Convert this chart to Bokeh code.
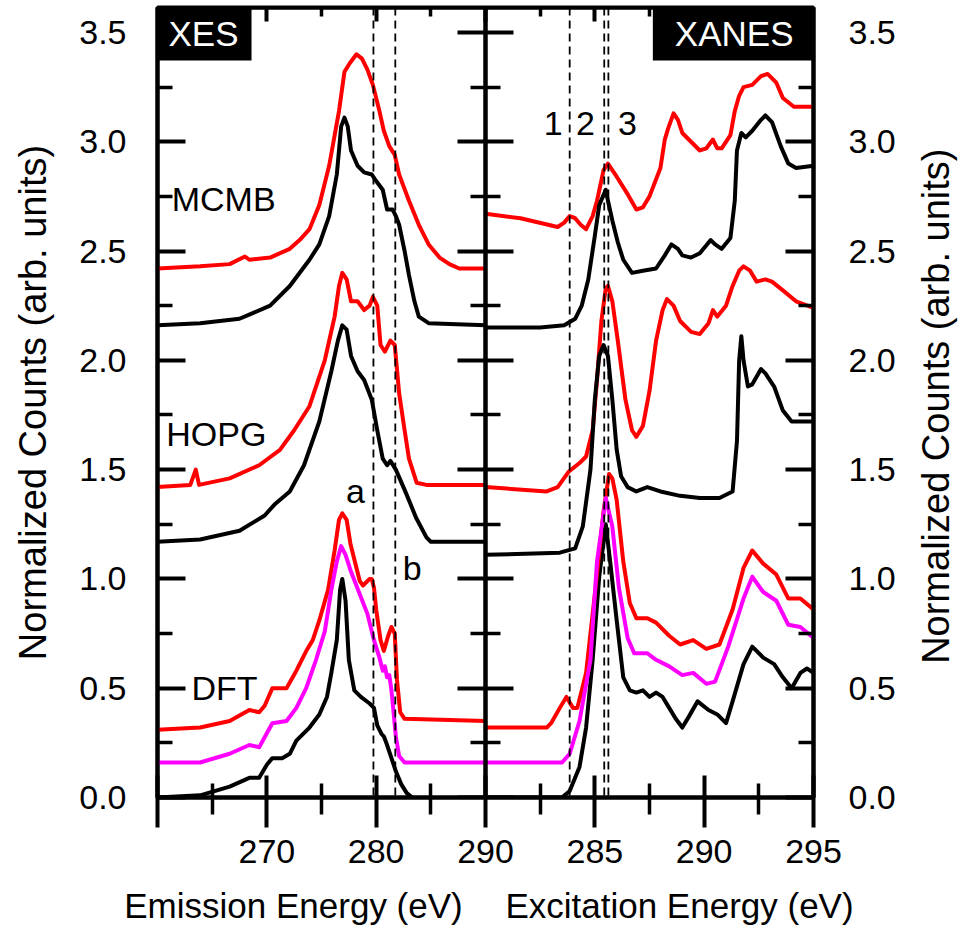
import math
from bokeh.plotting import figure
from bokeh.layouts import column, row
from bokeh.models import Range1d, LinearAxis, FixedTicker, NumeralTickFormatter, Span, Label
from bokeh.core.properties import value
from bokeh.embed import file_html
from bokeh.resources import INLINE

# ---------------- XES (emission energy, eV) ----------------
xes_mcmb_red_e = [260.0, 263.9, 266.6, 268.0, 268.4, 270.3, 272.1, 273.0, 273.9, 274.8, 275.7, 276.6, 277.1, 277.6, 278.2, 278.7, 279.2, 279.7, 280.3, 280.7, 281.2, 281.7, 282.1, 283.0, 283.9, 284.8, 285.8, 286.7, 287.6, 290.0]
xes_mcmb_red_v = [2.42, 2.43, 2.44, 2.475, 2.46, 2.47, 2.51, 2.55, 2.60, 2.71, 2.89, 3.14, 3.32, 3.36, 3.40, 3.38, 3.33, 3.26, 3.14, 3.05, 2.98, 2.94, 2.85, 2.73, 2.62, 2.53, 2.47, 2.44, 2.42, 2.42]

xes_mcmb_blk_e = [260.0, 263.9, 267.5, 270.3, 272.1, 273.9, 274.8, 275.7, 276.4, 276.8, 277.1, 277.4, 277.7, 278.3, 278.9, 279.6, 280.0, 280.6, 281.0, 281.5, 281.8, 282.1, 282.6, 283.0, 283.5, 283.9, 284.8, 290.0]
xes_mcmb_blk_v = [2.16, 2.17, 2.19, 2.25, 2.34, 2.46, 2.53, 2.66, 2.85, 3.07, 3.11, 3.07, 2.96, 2.89, 2.86, 2.85, 2.82, 2.78, 2.69, 2.69, 2.66, 2.62, 2.50, 2.39, 2.27, 2.20, 2.17, 2.16]

xes_hopg_red_e = [260.0, 263.0, 263.5, 263.8, 266.6, 269.3, 271.2, 272.5, 273.9, 275.3, 276.2, 276.6, 276.9, 277.3, 277.7, 278.3, 278.9, 279.4, 279.7, 280.1, 280.4, 280.8, 281.3, 281.7, 282.1, 282.6, 283.0, 283.7, 284.6, 290.0]
xes_hopg_red_v = [1.42, 1.43, 1.50, 1.43, 1.46, 1.52, 1.59, 1.68, 1.79, 2.00, 2.20, 2.34, 2.40, 2.37, 2.27, 2.27, 2.23, 2.25, 2.29, 2.25, 2.07, 2.04, 2.09, 2.07, 1.85, 1.68, 1.55, 1.44, 1.43, 1.43]

xes_hopg_blk_e = [260.0, 263.9, 267.5, 269.8, 270.7, 272.1, 273.4, 274.8, 275.9, 276.5, 276.9, 277.3, 277.7, 278.3, 278.9, 279.6, 280.1, 280.6, 281.0, 281.3, 281.8, 282.75, 283.65, 284.6, 285.0, 290.0]
xes_hopg_blk_v = [1.17, 1.18, 1.22, 1.29, 1.34, 1.40, 1.52, 1.72, 1.95, 2.09, 2.16, 2.14, 2.02, 1.95, 1.91, 1.82, 1.68, 1.55, 1.52, 1.54, 1.50, 1.39, 1.28, 1.19, 1.17, 1.17]

xes_dft_red_e = [260.0, 263.9, 266.6, 268.4, 269.3, 269.8, 270.5, 271.8, 272.7, 273.6, 274.2, 274.8, 275.6, 276.2, 276.6, 276.9, 277.3, 277.65, 278.5, 278.8, 279.4, 279.6, 279.8, 280.0, 280.4, 280.7, 281.1, 281.4, 281.7, 281.9, 282.2, 282.6, 290.0]
xes_dft_red_v = [0.31, 0.32, 0.35, 0.40, 0.39, 0.42, 0.50, 0.50, 0.58, 0.67, 0.72, 0.81, 0.95, 1.13, 1.27, 1.30, 1.27, 1.16, 0.99, 0.97, 1.00, 1.00, 0.96, 0.86, 0.72, 0.67, 0.74, 0.78, 0.75, 0.54, 0.39, 0.36, 0.35]

xes_dft_mag_e = [260.0, 263.9, 266.6, 268.4, 269.3, 270.5, 271.8, 272.7, 273.6, 274.5, 275.3, 275.9, 276.4, 276.8, 277.2, 277.65, 278.5, 279.2, 279.8, 280.3, 280.6, 280.8, 281.0, 281.2, 281.4, 281.8, 282.1, 282.6, 290.0]
xes_dft_mag_v = [0.16, 0.16, 0.20, 0.24, 0.23, 0.34, 0.35, 0.41, 0.50, 0.63, 0.76, 0.95, 1.08, 1.15, 1.11, 1.04, 0.93, 0.84, 0.72, 0.64, 0.58, 0.60, 0.55, 0.56, 0.49, 0.28, 0.19, 0.16, 0.16]

xes_dft_blk_e = [260.0, 263.9, 266.6, 268.4, 269.3, 270.0, 270.5, 271.4, 272.1, 272.7, 273.9, 274.8, 275.5, 275.9, 276.4, 276.7, 276.9, 277.2, 277.5, 278.0, 278.6, 279.4, 279.8, 280.1, 280.5, 280.7, 281.0, 281.4, 281.8, 282.3, 282.8, 283.3]
xes_dft_blk_v = [0.0, 0.01, 0.05, 0.09, 0.09, 0.15, 0.18, 0.18, 0.20, 0.26, 0.32, 0.38, 0.46, 0.57, 0.72, 0.95, 1.00, 0.90, 0.63, 0.49, 0.46, 0.43, 0.41, 0.33, 0.29, 0.28, 0.24, 0.18, 0.12, 0.06, 0.02, 0.0]

# ---------------- XANES (excitation energy, eV) ----------------
xan_mcmb_red_e = [280.0, 281.6, 283.3, 283.6, 283.85, 284.1, 284.35, 284.6, 284.9, 285.1, 285.4, 285.6, 285.8, 286.0, 286.5, 286.9, 287.2, 287.5, 288.0, 288.2, 288.35, 288.6, 288.8, 289.0, 289.4, 289.8, 290.1, 290.4, 290.6, 290.8, 291.2, 291.4, 291.6, 291.8, 292.2, 292.6, 292.9, 293.3, 293.6, 294.1, 295.0]
xan_mcmb_red_v = [2.67, 2.65, 2.61, 2.63, 2.66, 2.65, 2.62, 2.60, 2.66, 2.73, 2.87, 2.90, 2.87, 2.84, 2.76, 2.69, 2.70, 2.75, 2.88, 3.01, 3.06, 3.13, 3.10, 3.04, 3.00, 2.96, 2.97, 3.01, 2.97, 2.97, 3.03, 3.14, 3.21, 3.25, 3.26, 3.30, 3.31, 3.27, 3.20, 3.16, 3.16]

xan_mcmb_blk_e = [280.0, 282.5, 283.6, 284.1, 284.4, 284.7, 285.0, 285.2, 285.5, 285.6, 285.8, 286.05, 286.3, 286.7, 287.2, 287.8, 288.2, 288.5, 288.8, 289.0, 289.4, 289.8, 290.3, 290.5, 290.8, 291.2, 291.4, 291.5, 291.7, 291.9, 292.2, 292.6, 292.8, 293.1, 293.5, 293.85, 294.2, 295.0]
xan_mcmb_blk_v = [2.15, 2.15, 2.16, 2.19, 2.25, 2.37, 2.57, 2.71, 2.78, 2.73, 2.64, 2.54, 2.46, 2.40, 2.41, 2.42, 2.48, 2.53, 2.51, 2.48, 2.47, 2.49, 2.55, 2.53, 2.51, 2.56, 2.73, 2.96, 3.04, 3.02, 3.05, 3.10, 3.12, 3.09, 2.98, 2.90, 2.88, 2.89]

xan_hopg_red_e = [280.0, 282.8, 283.3, 283.8, 284.3, 284.6, 284.9, 285.1, 285.3, 285.5, 285.6, 285.8, 286.05, 286.4, 286.7, 286.9, 287.2, 287.5, 287.8, 288.1, 288.3, 288.6, 288.9, 289.4, 289.8, 290.2, 290.4, 290.6, 291.0, 291.3, 291.6, 291.8, 292.1, 292.4, 292.8, 293.1, 293.6, 294.2, 295.0]
xan_hopg_red_v = [1.42, 1.40, 1.42, 1.49, 1.53, 1.56, 1.68, 1.91, 2.18, 2.33, 2.34, 2.27, 2.09, 1.82, 1.68, 1.65, 1.70, 1.86, 2.09, 2.23, 2.28, 2.25, 2.18, 2.13, 2.12, 2.17, 2.23, 2.20, 2.25, 2.34, 2.41, 2.43, 2.41, 2.36, 2.37, 2.36, 2.32, 2.27, 2.24]

xan_hopg_blk_e = [280.0, 283.4, 284.1, 284.45, 284.8, 285.0, 285.2, 285.4, 285.6, 285.8, 286.0, 286.2, 286.5, 286.9, 287.4, 288.0, 288.9, 289.8, 290.7, 291.3, 291.5, 291.6, 291.7, 291.8, 292.0, 292.2, 292.6, 292.8, 293.2, 293.6, 294.0, 295.0]
xan_hopg_blk_v = [1.11, 1.12, 1.14, 1.24, 1.50, 1.82, 2.02, 2.07, 2.02, 1.82, 1.59, 1.47, 1.42, 1.40, 1.42, 1.40, 1.38, 1.37, 1.37, 1.40, 1.63, 2.00, 2.11, 2.00, 1.88, 1.89, 1.96, 1.94, 1.88, 1.77, 1.72, 1.72]

xan_dft_red_e = [280.0, 282.8, 283.0, 283.4, 283.7, 284.0, 284.2, 284.6, 285.0, 285.4, 285.65, 285.8, 286.0, 286.3, 286.6, 286.9, 287.4, 287.8, 288.4, 288.9, 289.5, 290.1, 290.7, 291.3, 291.8, 292.2, 292.7, 293.3, 293.85, 294.4, 295.0]
xan_dft_red_v = [0.32, 0.32, 0.34, 0.41, 0.46, 0.41, 0.41, 0.57, 0.93, 1.31, 1.48, 1.46, 1.36, 1.08, 0.89, 0.82, 0.82, 0.80, 0.74, 0.70, 0.72, 0.68, 0.70, 0.86, 1.05, 1.13, 1.07, 1.02, 0.91, 0.91, 0.86]

xan_dft_mag_e = [280.0, 283.5, 283.85, 284.3, 284.8, 285.1, 285.5, 285.8, 286.1, 286.5, 286.8, 287.4, 287.8, 288.4, 289.0, 289.5, 290.1, 290.5, 291.1, 291.8, 292.2, 292.7, 293.3, 293.85, 294.4, 295.0]
xan_dft_mag_v = [0.16, 0.16, 0.20, 0.35, 0.63, 1.08, 1.37, 1.24, 0.96, 0.73, 0.66, 0.66, 0.63, 0.60, 0.56, 0.57, 0.52, 0.53, 0.69, 0.91, 1.01, 0.94, 0.90, 0.79, 0.78, 0.73]

xan_dft_blk_e = [280.0, 283.5, 283.85, 284.3, 284.6, 284.9, 285.2, 285.5, 285.7, 286.0, 286.3, 286.6, 286.9, 287.2, 287.5, 287.8, 288.1, 288.4, 288.7, 289.0, 289.3, 289.7, 290.2, 290.6, 291.0, 291.3, 291.8, 292.2, 292.7, 293.2, 293.6, 294.0, 294.4, 294.7, 295.0]
xan_dft_blk_v = [0.0, 0.0, 0.03, 0.14, 0.32, 0.63, 1.01, 1.25, 1.08, 0.81, 0.55, 0.49, 0.48, 0.49, 0.46, 0.48, 0.46, 0.41, 0.36, 0.32, 0.37, 0.44, 0.40, 0.38, 0.34, 0.44, 0.61, 0.69, 0.64, 0.61, 0.55, 0.50, 0.57, 0.59, 0.57]

# reference lines, ticks and texts
xes_dash = [279.75, 281.75]
xan_dash = [283.85, 285.43, 285.62]
y_major = [0.0, 0.5, 1.0, 1.5, 2.0, 2.5, 3.0, 3.5]
y_minor = [0.25, 0.75, 1.25, 1.75, 2.25, 2.75, 3.25]
# one shared frame: XES on 260-290 (left half), XANES 280-295 on its own range (right half)
x_major = [260, 270, 280, 290, 300, 310, 320]
x_minor = [265, 275, 285, 295, 305, 315]
x_tick_text = {260: "", 270: "270", 280: "280", 290: "290", 300: "285", 310: "290", 320: "295"}
y_title = "Normalized Counts (arb. units)"
x_titles = ["Emission Energy (eV)", "Excitation Energy (eV)"]

FONT = "Liberation Sans"
RED = "#ff0000"
MAG = "#ff00ff"
BLK = "#000000"
Y_TOP = 3.614

W_MAIN, H_MAIN = 910, 879
p = figure(width=W_MAIN, height=H_MAIN, output_backend="svg", toolbar_location=None,
           x_range=Range1d(260, 320), y_range=Range1d(0, Y_TOP),
           x_axis_location=None, y_axis_location=None,
           min_border_left=157, min_border_right=W_MAIN - 813, min_border_top=7,
           min_border_bottom=H_MAIN - 797)
p.extra_x_ranges = {"xanes": Range1d(265, 295)}
p.grid.visible = False
p.outline_line_color = "black"
p.outline_line_width = 4
p.background_fill_color = "white"
p.border_fill_color = "white"


def style_axis(ax, labels=True):
    ax.axis_line_width = 4
    ax.axis_line_color = "black"
    ax.major_tick_line_width = 4
    ax.minor_tick_line_width = 3.5
    ax.major_tick_line_color = "black"
    ax.minor_tick_line_color = "black"
    ax.major_label_text_font = FONT
    ax.axis_label_text_font = FONT
    ax.axis_label_text_font_style = "normal"
    ax.axis_label_text_font_size = "38px"
    ax.axis_label_text_color = "black"
    if labels:
        ax.major_label_text_font_size = "34px"
        ax.major_label_text_color = "black"
    else:
        ax.major_label_text_color = None
        ax.major_label_text_font_size = "0px"
        ax.major_label_standoff = 0


yt = FixedTicker(ticks=y_major, minor_ticks=y_minor)
xt = FixedTicker(ticks=x_major, minor_ticks=x_minor)

# bottom axis
xb = LinearAxis(ticker=xt, major_label_overrides=x_tick_text,
                major_tick_in=22, major_tick_out=30, minor_tick_in=14, minor_tick_out=17,
                major_label_standoff=12)
style_axis(xb)
p.add_layout(xb, "below")

# top axis (ticks only, pinned to the top of the frame)
xtop = LinearAxis(ticker=xt, fixed_location=Y_TOP, major_tick_in=14, major_tick_out=0,
                  minor_tick_in=9, minor_tick_out=0)
style_axis(xtop, labels=False)
p.add_layout(xtop, "above")

# left axis
yl = LinearAxis(ticker=yt, formatter=NumeralTickFormatter(format="0.0"), axis_label=y_title,
                major_tick_in=28, major_tick_out=0, minor_tick_in=15, minor_tick_out=0,
                major_label_standoff=31, axis_label_standoff=22)
style_axis(yl)
p.add_layout(yl, "left")

# right axis
yr = LinearAxis(ticker=yt, formatter=NumeralTickFormatter(format="0.0"),
                major_tick_in=28, major_tick_out=0, minor_tick_in=15, minor_tick_out=0,
                major_label_standoff=35)
style_axis(yr)
p.add_layout(yr, "right")

# divider between the panels: ticks on both sides
yd1 = LinearAxis(ticker=yt, fixed_location=290, major_tick_in=28, major_tick_out=0,
                 minor_tick_in=15, minor_tick_out=0)
style_axis(yd1, labels=False)
p.add_layout(yd1, "left")
yd2 = LinearAxis(ticker=yt, fixed_location=290, major_tick_in=28, major_tick_out=0,
                 minor_tick_in=15, minor_tick_out=0)
style_axis(yd2, labels=False)
p.add_layout(yd2, "right")

LW = 4.0
# XES curves
p.line(xes_mcmb_red_e, xes_mcmb_red_v, line_color=RED, line_width=LW, line_join="round")
p.line(xes_mcmb_blk_e, xes_mcmb_blk_v, line_color=BLK, line_width=LW, line_join="round")
p.line(xes_hopg_red_e, xes_hopg_red_v, line_color=RED, line_width=LW, line_join="round")
p.line(xes_hopg_blk_e, xes_hopg_blk_v, line_color=BLK, line_width=LW, line_join="round")
p.line(xes_dft_red_e, xes_dft_red_v, line_color=RED, line_width=LW, line_join="round")
p.line(xes_dft_mag_e, xes_dft_mag_v, line_color=MAG, line_width=LW, line_join="round")
p.line(xes_dft_blk_e, xes_dft_blk_v, line_color=BLK, line_width=LW, line_join="round")

# XANES curves
XN = "xanes"
p.line(xan_mcmb_red_e, xan_mcmb_red_v, line_color=RED, line_width=LW, line_join="round", x_range_name=XN)
p.line(xan_mcmb_blk_e, xan_mcmb_blk_v, line_color=BLK, line_width=LW, line_join="round", x_range_name=XN)
p.line(xan_hopg_red_e, xan_hopg_red_v, line_color=RED, line_width=LW, line_join="round", x_range_name=XN)
p.line(xan_hopg_blk_e, xan_hopg_blk_v, line_color=BLK, line_width=LW, line_join="round", x_range_name=XN)
p.line(xan_dft_blk_e, xan_dft_blk_v, line_color=BLK, line_width=LW, line_join="round", x_range_name=XN)
p.line(xan_dft_red_e, xan_dft_red_v, line_color=RED, line_width=LW, line_join="round", x_range_name=XN)
p.line(xan_dft_mag_e, xan_dft_mag_v, line_color=MAG, line_width=LW, line_join="round", x_range_name=XN)

# dashed guides
for xv in xes_dash:
    p.add_layout(Span(location=xv, dimension="height", line_color="black", line_width=1.8, line_dash="8 5"))
for xv in xan_dash:
    p.add_layout(Span(location=xv, dimension="height", line_color="black", line_width=1.8, line_dash="8 5",
                      x_range_name=XN))


def lab(x, y, text, align="left", rng="default"):
    p.add_layout(Label(x=x, y=y, text=text, text_font=FONT, text_font_size="34px", text_color="black",
                       text_align=align, text_baseline="middle", x_range_name=rng))


lab(261.3, 2.74, "MCMB")
lab(260.8, 1.665, "HOPG")
lab(263.1, 0.50, "DFT")
lab(278.1, 1.40, "a", align="center")
lab(283.3, 1.05, "b", align="center")
lab(283.1, 3.085, "1", align="center", rng=XN)
lab(284.57, 3.085, "2", align="center", rng=XN)
lab(286.49, 3.085, "3", align="center", rng=XN)

# panel tags (padding: left, right, top, bottom)
p.add_layout(Label(x=260, y=Y_TOP, text="XES", anchor="top_left", text_font=FONT, text_font_size="35px",
                   text_color="white", background_fill_color="black", padding=(11, 13, 6, 8)))
p.add_layout(Label(x=295, y=Y_TOP, text="XANES", anchor="top_right", x_range_name=XN, text_font=FONT,
                   text_font_size="35px", text_color="white", background_fill_color="black",
                   padding=(22, 20, 6, 8)))

# right-hand title strip; its frame lines up with the main frame vertically
W_R = 961 - W_MAIN
pr = figure(width=W_R, height=H_MAIN, output_backend="svg", toolbar_location=None,
            x_range=Range1d(0, W_R), y_range=Range1d(0, Y_TOP),
            x_axis_location=None, y_axis_location=None, min_border=0)
pr.grid.visible = False
pr.outline_line_color = None
pr.text(x=[935 - W_MAIN], y=[1.79], text=[y_title], angle=math.pi / 2,
        text_align="center", text_baseline="middle", text_font=value(FONT),
        text_font_size="38px", text_color="black")

# bottom title strip (one title under each panel)
H_B = 928 - H_MAIN
pb = figure(width=961, height=H_B, output_backend="svg", toolbar_location=None,
            x_range=Range1d(0, 961), y_range=Range1d(0, H_B),
            x_axis_location=None, y_axis_location=None, min_border=0)
if "frame_align" in pb.properties():
    pb.frame_align = False
pb.grid.visible = False
pb.outline_line_color = None
pb.text(x=[293, 679], y=[928 - 905, 928 - 905], text=x_titles,
        text_align="center", text_baseline="middle", text_font=value(FONT),
        text_font_size="35px", text_color="black")

layout = column(row(p, pr), pb)
open("out.html", "w").write(file_html(layout, INLINE))
